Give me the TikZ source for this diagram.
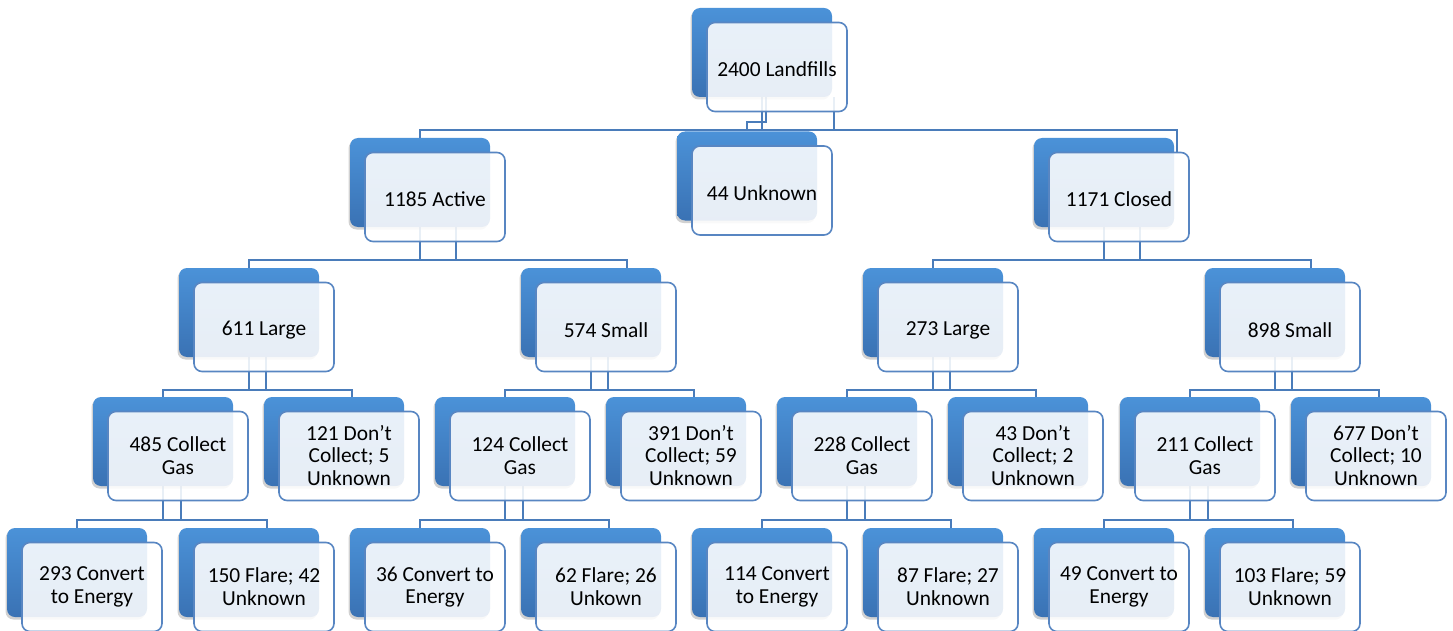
\documentclass[tikz,border=0pt]{standalone}
\usepackage{fontspec}
\setmainfont{Carlito}
\usetikzlibrary{calc,shadows}
\pgfdeclarelayer{bg}
\pgfsetlayers{bg,main}
\definecolor{boxtop}{HTML}{4B92D8}
\definecolor{boxbot}{HTML}{3A72B4}
\definecolor{edgecol}{HTML}{5886C2}
\definecolor{conncol}{HTML}{4A7CBA}
\newcommand\topstrut{\rule{0pt}{21.25pt}}
\newcommand\botstrut{\rule[-1.25pt]{0pt}{1.25pt}}
\tikzset{
 backbox/.style={minimum width=140pt, minimum height=89pt, inner sep=0pt,
   rounded corners=8pt, top color=boxtop, bottom color=boxbot, draw=none,
   drop shadow={shadow xshift=-1.5pt, shadow yshift=-2.5pt, fill=black, opacity=0.18}},
 frontbox/.style={minimum width=140pt, minimum height=89pt, inner sep=0pt,
   rounded corners=8pt, draw=edgecol, line width=1.6pt, fill=white,
   fill opacity=0.88, text opacity=1, align=center,
   font=\fontsize{21.4}{22.5}\selectfont, text=black,
   execute at begin node=\topstrut, execute at end node=\botstrut},
 conn/.style={draw=conncol, line width=1.4pt},
}
\newcommand\mkcell[4]{%
 \node[backbox] (b#1) at (#2+70,#3+44.5) {};
 \node[frontbox] (f#1) at (#2+85,#3+59) {#4};}
\newcommand\mktree[6]{%
 \begin{pgfonlayer}{bg}
 \coordinate (pA) at ([xshift=70pt]b#1.south west);
 \coordinate (pB) at ([xshift=#4pt]b#1.south west);
 \coordinate (cL) at ([xshift=70pt]b#2.north west);
 \coordinate (cR) at ([xshift=#5pt]b#3.north west);
 \draw[conn] (pA) -- (pA |- 0,#6);
 \draw[conn] (pB) -- (pB |- 0,#6);
 \draw[conn] (cL) -- (cL |- 0,#6) -- (cR |- 0,#6) -- (cR);
 \end{pgfonlayer}}
\begin{document}
\begin{tikzpicture}[x=1pt,y=-1pt]
\useasboundingbox (0,0) rectangle (1453,631);
% level 0
\mkcell{0}{692}{8}{2400 Landfills}
% level 1
\mkcell{A}{350}{138}{1185 Active}
\mkcell{U}{677}{131.5}{44 Unknown}
\mkcell{C}{1034}{138}{1171 Closed}
% level 2
\mkcell{AL}{179}{268}{611 Large}
\mkcell{AS}{521}{268}{574 Small}
\mkcell{CL}{863}{268}{273 Large}
\mkcell{CS}{1205}{268}{898 Small}
% level 3
\mkcell{31}{93}{397}{485 Collect\\Gas}
\mkcell{32}{264}{397}{121 Don’t\\Collect; 5\\Unknown}
\mkcell{33}{435}{397}{124 Collect\\Gas}
\mkcell{34}{606}{397}{391 Don’t\\Collect; 59\\Unknown}
\mkcell{35}{777}{397}{228 Collect\\Gas}
\mkcell{36}{948}{397}{43 Don’t\\Collect; 2\\Unknown}
\mkcell{37}{1120}{397}{211 Collect\\Gas}
\mkcell{38}{1291}{397}{677 Don’t\\Collect; 10\\Unknown}
% level 4
\mkcell{41}{7}{528}{293 Convert\\to Energy}
\mkcell{42}{179}{528}{150 Flare; 42\\Unknown}
\mkcell{43}{350}{528}{36 Convert to\\Energy}
\mkcell{44}{521}{528}{62 Flare; 26\\Unkown}
\mkcell{45}{692}{528}{114 Convert\\to Energy}
\mkcell{46}{863}{528}{87 Flare; 27\\Unknown}
\mkcell{47}{1034}{528}{49 Convert to\\Energy}
\mkcell{48}{1205}{528}{103 Flare; 59\\Unknown}
% connectors, root
\begin{pgfonlayer}{bg}
\coordinate (t1) at ([xshift=70pt]b0.south west);
\coordinate (t2) at ([xshift=74pt]b0.south west);
\coordinate (t3) at ([xshift=142pt]b0.south west);
\coordinate (uA) at ([xshift=70pt]bU.north west);
\coordinate (aA) at ([xshift=70pt]bA.north west);
\coordinate (cA) at ([xshift=143pt]bC.north west);
\draw[conn] (t1) -- (t1 |- 0,130);
\draw[conn] (t2) -- (t2 |- 0,122) -| (uA);
\draw[conn] (t3) -- (t3 |- 0,130);
\draw[conn] (aA) -- (aA |- 0,130) -- (cA |- 0,130) -- (cA |- fC.north);
\end{pgfonlayer}
\mktree{A}{AL}{AS}{106}{106}{260}
\mktree{C}{CL}{CS}{106}{106}{260}
\mktree{AL}{31}{32}{87}{88}{390}
\mktree{AS}{33}{34}{87}{88}{390}
\mktree{CL}{35}{36}{87}{88}{390}
\mktree{CS}{37}{38}{87}{88}{390}
\mktree{31}{41}{42}{88}{88}{520}
\mktree{33}{43}{44}{88}{88}{520}
\mktree{35}{45}{46}{88}{88}{520}
\mktree{37}{47}{48}{88}{88}{520}
\end{tikzpicture}
\end{document}
